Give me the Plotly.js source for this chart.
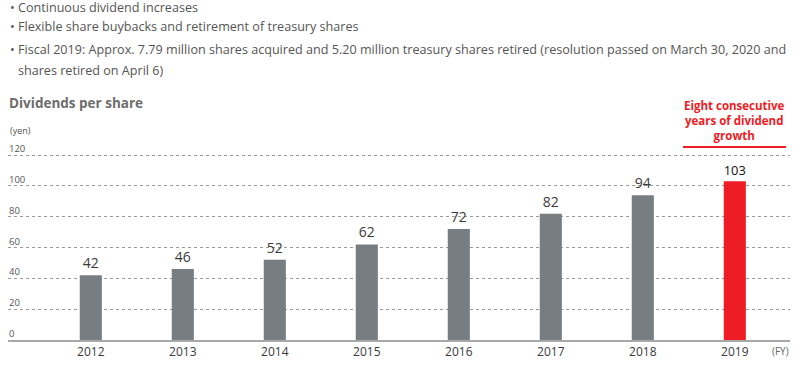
<!DOCTYPE html>
<html><head><meta charset="utf-8">
<script src="https://cdn.plot.ly/plotly-3.0.1.min.js"></script>
<style>body{margin:0;background:#fff}#c{width:806px;height:366px}</style>
</head><body><div id="c"></div>
<script>
const years = ['2012','2013','2014','2015','2016','2017','2018','2019'];
const dividends = [42,46,52,62,72,82,94,103];
const barColors = ['#787d82','#787d82','#787d82','#787d82','#787d82','#787d82','#787d82','#ee1c25'];
const labelColors = ['#3a3a3a','#3a3a3a','#3a3a3a','#3a3a3a','#3a3a3a','#3a3a3a','#3a3a3a','#111'];
const yTicks = [0,20,40,60,80,100,120];
const bullets = [
 'Continuous dividend increases',
 'Flexible share buybacks and retirement of treasury shares',
 'Fiscal 2019: Approx. 7.79 million shares acquired and 5.20 million treasury shares retired (resolution passed on March 30, 2020 and'
];
const bulletCont = 'shares retired on April 6)';

const W=806,H=366,L=8,R=16,T=152,B=26;
const pw=W-L-R, ph=H-T-B;
const px=x=>(x-L)/pw, py=y=>(H-B-y)/ph;
const FONT='"Open Sans", sans-serif';
const ann=[];
const by=[7,27,49];
bullets.forEach((t,i)=>{
  ann.push({xref:'paper',yref:'paper',x:px(8),y:py(by[i]),xanchor:'left',yanchor:'middle',text:'• '+t,showarrow:false,font:{family:FONT,size:12.6,color:'#555'}});
});
ann.push({xref:'paper',yref:'paper',x:px(16),y:py(70),xanchor:'left',yanchor:'middle',text:bulletCont,showarrow:false,font:{family:FONT,size:12.6,color:'#555'}});
ann.push({xref:'paper',yref:'paper',x:px(7),y:py(103),xanchor:'left',yanchor:'middle',text:'<b>Dividends per share</b>',showarrow:false,font:{family:FONT,size:13.5,color:'#6d6d6d'}});
ann.push({xref:'paper',yref:'paper',x:px(8),y:py(130),xanchor:'left',yanchor:'middle',text:'(yen)',showarrow:false,font:{family:FONT,size:9,color:'#555'}});
ann.push({xref:'paper',yref:'paper',x:px(780),y:py(351),xanchor:'center',yanchor:'middle',text:'(FY)',showarrow:false,font:{family:FONT,size:10,color:'#666'}});
ann.push({xref:'x',yref:'paper',x:7,y:py(120),xanchor:'center',yanchor:'middle',text:'<b>Eight consecutive<br>years of dividend<br>growth</b>',showarrow:false,font:{family:FONT,size:11.5,color:'#ee1c25'}});
yTicks.forEach(v=>{
  ann.push({xref:'paper',yref:'y',x:0,y:v,xanchor:'left',yanchor:'bottom',yshift:-1,text:String(v),showarrow:false,
    font:{family:FONT,size:9.5,color:'#555'},borderpad:0});
});
const data=[{
  type:'bar',x:years,y:dividends,width:0.24,
  marker:{color:barColors},
  text:dividends.map(String),textposition:'outside',cliponaxis:false,
  textfont:{family:FONT,size:14,color:labelColors},
  hoverinfo:'none'
}];
const layout={
  width:W,height:H,margin:{l:L,r:R,t:T,b:B},
  paper_bgcolor:'#fff',plot_bgcolor:'#fff',showlegend:false,
  font:{family:FONT},
  xaxis:{type:'category',range:[-0.9,7.6],showgrid:false,zeroline:false,showline:true,linecolor:'#a8a8a8',linewidth:2,
    ticks:'',tickfont:{family:FONT,size:12,color:'#3a3a3a'},fixedrange:true},
  yaxis:{range:[0,122],tickvals:yTicks,showticklabels:false,
    showgrid:true,gridcolor:'#9a9a9a',griddash:'dot',gridwidth:1,
    zeroline:false,showline:false,ticks:'',fixedrange:true},
  annotations:ann,
  shapes:[{type:'line',xref:'paper',yref:'paper',x0:px(683),x1:px(786),y0:py(147),y1:py(147),line:{color:'#ee1c25',width:2}}]
};
Plotly.newPlot('c',data,layout,{displayModeBar:false,staticPlot:true});
</script></body></html>
